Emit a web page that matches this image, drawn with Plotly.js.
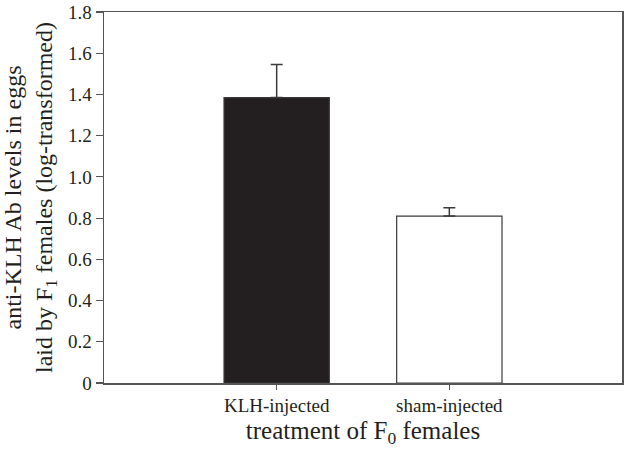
<!DOCTYPE html>
<html>
<head>
<meta charset="utf-8">
<script src="https://cdn.plot.ly/plotly-3.0.1.min.js"></script>
<style>html,body{margin:0;padding:0;background:#fff;}#chart{width:625px;height:460px;}</style>
</head>
<body>
<div id="chart"></div>
<script>
const categories = ["KLH-injected", "sham-injected"];
const means = [1.385, 0.81];
const errorsUp = [0.16, 0.04];
const barColors = ["#231f20", "#ffffff"];
const yTickVals = [0, 0.2, 0.4, 0.6, 0.8, 1.0, 1.2, 1.4, 1.6, 1.8];
const yTickText = ["0", "0.2", "0.4", "0.6", "0.8", "1.0", "1.2", "1.4", "1.6", "1.8"];

const serif = "Liberation Serif, Times New Roman, serif";

const trace = {
  type: "bar",
  x: categories,
  y: means,
  width: 0.61,
  marker: { color: barColors, line: { color: "#3a3a3a", width: 1.2 } },
  error_y: {
    type: "data",
    symmetric: false,
    array: errorsUp,
    arrayminus: [0, 0],
    color: "#3a3a3a",
    thickness: 1.5,
    width: 6
  },
  hoverinfo: "none"
};

const layout = {
  width: 625,
  height: 460,
  margin: { l: 104, r: 3, t: 12, b: 77 },
  paper_bgcolor: "#ffffff",
  plot_bgcolor: "#ffffff",
  showlegend: false,
  font: { family: serif, color: "#231f20", size: 19 },
  xaxis: {
    type: "category",
    range: [-1, 2],
    showline: true,
    linecolor: "#555555",
    linewidth: 1.5,
    mirror: true,
    ticks: "outside",
    ticklen: 5,
    tickwidth: 1.2,
    tickcolor: "#555555",
    tickfont: { family: serif, size: 19, color: "#231f20" },
    showgrid: false,
    zeroline: false,
    title: { text: "treatment of F<sub>0</sub> females", font: { family: serif, size: 25, color: "#231f20" }, standoff: 6 }
  },
  yaxis: {
    range: [0, 1.8],
    tickvals: yTickVals,
    ticktext: yTickText,
    showline: true,
    linecolor: "#555555",
    linewidth: 1.5,
    mirror: true,
    ticks: "outside",
    ticklen: 7,
    tickwidth: 1.2,
    tickcolor: "#555555",
    tickfont: { family: serif, size: 19, color: "#231f20" },
    showgrid: false,
    zeroline: false,
    title: { text: "anti-KLH Ab levels in eggs<br>laid by F<sub>1</sub> females (log-transformed)", font: { family: serif, size: 24, color: "#231f20" }, standoff: 8 }
  }
};

Plotly.newPlot("chart", [trace], layout, { staticPlot: true, displayModeBar: false });
</script>
</body>
</html>
